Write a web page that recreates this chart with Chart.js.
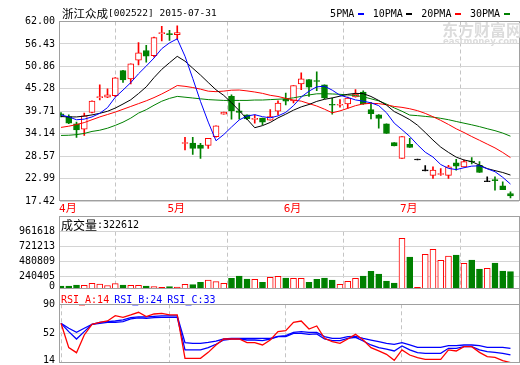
<!DOCTYPE html>
<html lang="zh-CN">
<head>
<meta charset="UTF-8">
<title>浙江众成[002522]</title>
<script src="https://cdn.jsdelivr.net/npm/chart.js"></script>
<style>
    body { margin: 0; background: #fff; }
    #wrap { position: relative; width: 520px; height: 365px; overflow: hidden; }
    #wrap canvas { position: absolute; left: 0; }
</style>
</head>
<body>
<div id="wrap">
    <canvas id="priceChart" width="520" height="216" style="top:0"></canvas>
    <canvas id="volChart" width="520" height="80" style="top:216px"></canvas>
    <canvas id="rsiChart" width="520" height="82" style="top:289px"></canvas>
</div>
<script>
// ---- data ----
const title = '浙江众成[002522] 2015-07-31';
const months = ['4月', '5月', '6月', '7月'];
const monthStart = [0, 14, 29, 44];
const priceTicks = [62.00, 56.43, 50.86, 45.28, 39.71, 34.14, 28.57, 22.99, 17.42];
const volTicks = [0, 240405, 480809, 721213, 961618];
const rsiTicks = [14, 52, 90];
const maNames = ['5PMA', '10PMA', '20PMA', '30PMA'];
const rsiNames = ['RSI_A', 'RSI_B', 'RSI_C'];

const open = [39.0, 38.4, 36.6, 35.25, 39.4, 43.1, 43.2, 43.6, 49.8, 47.75,
    52.4, 54.8, 53.5, 59.0, 59.0, 58.7, 31.7, 31.8, 31.3, 31.2,
    33.4, 39.0, 43.4, 39.8, 38.8, 37.7, 38.0, 37.5, 39.7, 42.8,
    42.3, 46.5, 47.6, 47.3, 46.25, 41.3, 41.2, 41.5, 43.25, 44.5,
    40.1, 38.8, 36.6, 31.9, 28.0, 31.5, 27.6, 24.9, 23.8, 24.0,
    23.8, 26.9, 25.9, 27.25, 26.3, 22.2, 22.75, 21.2, 19.25];
const high = [39.4, 38.8, 37.0, 39.25, 42.3, 46.3, 45.3, 48.1, 49.9, 51.5,
    56.75, 56.1, 58.1, 60.8, 59.8, 60.9, 33.25, 33.25, 31.75, 33.0,
    36.1, 39.5, 43.8, 41.75, 38.8, 38.8, 38.0, 40.1, 42.3, 44.25,
    46.1, 49.25, 47.6, 49.5, 46.3, 43.0, 42.6, 43.25, 45.1, 44.8,
    41.9, 38.9, 36.6, 31.9, 33.4, 33.0, 27.6, 26.2, 25.9, 25.5,
    26.3, 27.8, 27.6, 28.2, 27.2, 23.4, 23.4, 22.2, 19.7];
const low = [38.3, 36.6, 33.2, 33.7, 39.3, 42.5, 43.1, 43.3, 46.9, 46.5,
    51.2, 51.9, 53.2, 57.2, 57.3, 57.6, 30.1, 29.0, 28.0, 30.5,
    33.3, 39.0, 37.75, 37.75, 37.6, 36.75, 36.3, 37.5, 38.8, 41.3,
    41.75, 45.1, 43.4, 44.8, 42.8, 39.0, 40.75, 40.5, 43.2, 41.4,
    37.8, 35.5, 34.2, 31.1, 28.0, 30.7, 27.6, 24.9, 23.0, 23.8,
    23.0, 25.1, 25.9, 26.6, 24.5, 22.2, 20.1, 20.25, 18.2];
const close = [38.8, 36.75, 35.1, 38.6, 42.25, 43.3, 43.8, 48.0, 47.5, 51.5,
    54.25, 53.4, 58.0, 59.1, 58.7, 59.25, 31.8, 30.5, 30.5, 33.0,
    36.1, 39.5, 39.8, 39.4, 37.8, 37.8, 37.0, 38.4, 41.75, 42.2,
    46.1, 47.75, 45.7, 47.1, 43.0, 41.2, 41.4, 43.0, 44.0, 41.5,
    39.1, 37.9, 34.2, 31.1, 33.4, 30.7, 27.6, 24.9, 25.1, 24.1,
    25.9, 26.1, 27.2, 27.1, 24.5, 22.2, 22.5, 20.25, 18.7];
const volume = [91000, 91000, 107000, 103000, 135000, 123000, 99000, 128000, 107000, 103000,
    103000, 91000, 80000, 70000, 80000, 75000, 119000, 112000, 151000, 188000,
    160000, 135000, 215000, 252000, 204000, 199000, 151000, 231000, 247000, 220000,
    215000, 215000, 151000, 199000, 220000, 188000, 119000, 167000, 215000, 252000,
    327000, 284000, 171000, 139000, 856000, 556000, 70000, 599000, 680000, 503000,
    572000, 588000, 455000, 508000, 364000, 375000, 460000, 332000, 322612];

const ma5 = [38.8, 38.3, 37.6, 37.75, 38.3, 39.2, 40.61, 43.19, 44.97, 46.82,
    49.01, 50.93, 52.93, 55.25, 56.69, 57.69, 53.37, 47.87, 42.15, 37.01,
    32.38, 33.92, 35.78, 37.56, 38.52, 38.86, 38.36, 38.08, 38.55, 39.43,
    41.09, 43.24, 44.7, 45.77, 45.93, 44.95, 43.68, 43.14, 42.52, 42.22,
    41.8, 41.1, 39.34, 36.76, 35.14, 33.46, 31.4, 29.54, 28.34, 26.48,
    25.52, 25.22, 25.68, 26.08, 26.16, 25.42, 24.7, 23.31, 21.63];
const ma10 = [38.4, 38.3, 38.3, 38.5, 38.8, 39.2, 39.7, 40.5, 41.5, 42.56,
    44.1, 45.77, 48.06, 50.11, 51.76, 53.35, 52.15, 50.4, 48.7, 46.85,
    45.04, 43.65, 41.83, 39.86, 37.77, 35.62, 36.14, 36.93, 38.06, 38.98,
    39.98, 40.8, 41.39, 42.16, 42.68, 43.02, 43.46, 43.92, 44.15, 44.08,
    43.38, 42.39, 41.24, 39.64, 38.68, 37.63, 36.25, 34.44, 32.55, 30.81,
    29.49, 28.31, 27.61, 27.21, 26.32, 25.47, 24.96, 24.5, 23.86];
const ma20 = [35.7, 36.0, 36.4, 36.9, 37.6, 38.3, 38.9, 39.5, 40.2, 40.9,
    41.6, 42.3, 43.1, 44.0, 45.0, 46.1, 45.9, 45.6, 45.2, 44.7,
    44.57, 44.71, 44.94, 44.98, 44.76, 44.49, 44.15, 43.67, 43.38, 42.91,
    42.5, 42.22, 41.61, 41.01, 40.22, 39.32, 39.8, 40.43, 41.1, 41.53,
    41.68, 41.6, 41.32, 40.9, 40.68, 40.33, 39.86, 39.18, 38.35, 37.44,
    36.43, 35.35, 34.43, 33.43, 32.5, 31.55, 30.61, 29.47, 28.2];
const ma30 = [33.7, 33.75, 33.9, 34.2, 34.7, 35.0, 35.5, 36.2, 37.0, 38.0,
    39.25, 40.1, 41.2, 42.2, 42.9, 43.4, 43.2, 43.0, 42.8, 42.6,
    42.5, 42.4, 42.4, 42.4, 42.4, 42.5, 42.5, 42.6, 42.7, 42.8,
    43.04, 43.4, 43.76, 44.04, 44.07, 44.0, 43.92, 43.75, 43.63, 43.3,
    42.8, 42.28, 41.49, 40.55, 39.71, 38.76, 38.62, 38.43, 38.25, 37.95,
    37.61, 37.17, 36.75, 36.34, 35.89, 35.37, 34.89, 34.29, 33.52];

const rsiA = [65.5, 34.2, 27.7, 50.5, 64.2, 66.8, 68.5, 75.4, 73.2, 76.3,
    79.7, 74.1, 77.5, 78.4, 76.3, 76.3, 20.4, 20.4, 20.4, 28.1,
    37.6, 45.3, 45.3, 45.3, 40.6, 40.6, 37.6, 44.0, 54.8, 56.1,
    66.8, 68.5, 58.2, 62.1, 46.2, 41.9, 39.7, 45.3, 51.3, 44.0,
    34.2, 29.9, 25.6, 17.8, 31.2, 24.7, 21.3, 19.1, 19.1, 19.1,
    31.2, 29.9, 35.4, 35.4, 28.1, 22.6, 21.7, 17.4, 14.8];
const rsiB = [65.5, 54.8, 45.3, 54.8, 64.2, 65.5, 66.8, 66.8, 67.7, 71.1,
    72.4, 72.0, 72.8, 73.2, 73.2, 73.2, 31.2, 31.2, 31.2, 34.2,
    38.5, 44.0, 45.3, 45.3, 44.0, 44.0, 43.2, 45.3, 48.3, 48.3,
    52.6, 52.6, 51.3, 51.8, 45.3, 43.2, 43.2, 46.2, 47.5, 42.7,
    37.6, 34.2, 32.4, 29.9, 36.3, 31.2, 27.7, 26.9, 26.9, 26.9,
    33.3, 33.3, 35.4, 35.4, 31.2, 29.0, 28.1, 26.9, 24.8];
const rsiC = [65.5, 59.1, 53.9, 59.1, 64.2, 66.8, 67.7, 68.5, 69.8, 72.8,
    73.7, 73.7, 74.5, 75.0, 75.0, 75.0, 40.6, 39.7, 39.7, 41.0,
    42.7, 45.3, 46.2, 46.2, 46.2, 46.2, 46.2, 46.2, 48.8, 49.6,
    53.9, 54.8, 53.9, 53.9, 48.3, 46.2, 46.2, 48.3, 48.8, 46.2,
    44.0, 41.9, 39.7, 38.5, 40.6, 37.6, 34.6, 34.6, 34.6, 34.6,
    36.7, 36.7, 37.6, 37.6, 36.7, 34.6, 34.6, 34.6, 33.2];

// ---- styles ----
const RED = '#ff0000', GREEN = '#008000', BLUE = '#0000ff', BLACK = '#000000';
const GRID = '#d4d4d4', FRAME = '#a0a0a0', DASH = '#c4c4c4';
const MONO = '"DejaVu Sans Mono", "Noto Sans CJK SC", monospace';
const CJK = '"Noto Sans CJK SC", sans-serif';
const maColors = [BLUE, BLACK, RED, GREEN];
const rsiColors = [RED, BLUE, BLUE];

Chart.defaults.font.family = MONO;
Chart.defaults.font.size = 10;
Chart.defaults.color = '#000';

const candleColor = close.map((c, i) => c > open[i] ? RED : (c < open[i] ? GREEN : BLACK));
const bodyFill = close.map((c, i) => c > open[i] ? '#ffffff' : candleColor[i]);
const volColor = close.map((c, i) => c >= open[i] ? RED : GREEN);
const volFill = close.map((c, i) => c >= open[i] ? '#ffffff' : GREEN);

const pts = arr => arr.map((v, i) => ({ x: i, y: v }));

// shared time axis (one slot per trading day)
function timeAxis(showLabels, height) {
    return {
        type: 'linear', min: -0.13, max: 59.1, offset: false,
        afterBuildTicks: s => { s.ticks = monthStart.map(v => ({ value: v })); },
        afterFit: s => { s.height = height; },
        ticks: {
            display: showLabels, autoSkip: false, maxRotation: 0, align: 'start',
            padding: 2, labelOffset: -2, color: RED, font: { size: 11 },
            callback: (v, i) => months[i]
        },
        grid: { color: DASH, drawTicks: false },
        border: { display: false, dash: [4, 3] }
    };
}

// small lineHeight keeps the tick labels from pushing the plot area in
function valueAxis(min, max, tickValues, fmt, gridColor) {
    return {
        min: min, max: max,
        afterBuildTicks: s => { s.ticks = tickValues.map(v => ({ value: v })); },
        afterFit: s => { s.width = 60; },
        ticks: { padding: 5, autoSkip: false, callback: fmt, font: { size: 10, lineHeight: 0.3 } },
        grid: { color: gridColor || GRID, drawTicks: false },
        border: { display: false }
    };
}

// panel frame, topExtra = label strip above the plot area
const framePlugin = topExtra => ({
    id: 'frame',
    afterDraw(chart) {
        const { ctx, chartArea: a } = chart;
        ctx.save();
        ctx.strokeStyle = FRAME;
        ctx.lineWidth = 1;
        const l = Math.round(a.left) - 0.5, r = Math.round(a.right) + 0.5;
        const t = Math.round(a.top - topExtra) - 0.5, b = Math.round(a.bottom) - 0.5;
        ctx.strokeRect(l, t, r - l, b - t);
        ctx.restore();
    }
});

function drawMixed(ctx, text, x, y, asciiFont, cjkFont, color) {
    const runs = text.match(/[\u3000-\u9fff]+|[^\u3000-\u9fff]+/g);
    ctx.fillStyle = color;
    ctx.textBaseline = 'middle';
    ctx.textAlign = 'left';
    runs.forEach(r => {
        ctx.font = /[\u3000-\u9fff]/.test(r) ? cjkFont : asciiFont;
        ctx.fillText(r, x, y);
        x += ctx.measureText(r).width;
    });
    return x;
}

const headerPlugin = {
    id: 'header',
    afterDraw(chart) {
        const ctx = chart.ctx;
        ctx.save();
        // watermark
        ctx.fillStyle = '#dcdcdc';
        ctx.textBaseline = 'middle';
        ctx.font = 'bold 16px ' + CJK;
        ctx.fillText('东方财富网', 442, 30);
        ctx.font = 'bold 8.5px "DejaVu Sans", sans-serif';
        ctx.fillText('eastmoney.com', 443, 42);
        // title
        drawMixed(ctx, title, 62, 14, '9.5px ' + MONO, '11.5px ' + CJK, '#000');
        // legend: name then colour mark
        ctx.font = '10px ' + MONO;
        const widths = maNames.map(n => ctx.measureText(n).width);
        const total = widths.reduce((s, w) => s + w + 9.5, 0) + 9 * (maNames.length - 1);
        let x = 509.5 - total;
        maNames.forEach((n, i) => {
            ctx.fillStyle = '#000';
            ctx.fillText(n, x, 14);
            x += widths[i] + 3.5;
            ctx.fillStyle = maColors[i];
            ctx.fillRect(Math.round(x), 13, 6, 2);
            x += 6 + 9;
        });
        ctx.restore();
    }
};

const baseOptions = pad => ({
    responsive: false, animation: false, events: [],
    layout: { autoPadding: false, padding: pad },
    plugins: { legend: { display: false }, tooltip: { enabled: false } }
});

new Chart(document.getElementById('priceChart'), {
    type: 'bar',
    data: {
        datasets: [
            ...[ma5, ma10, ma20, ma30].map((d, i) => ({
                type: 'line', label: maNames[i], data: pts(d),
                borderColor: maColors[i], borderWidth: 1, pointRadius: 0, tension: 0, order: 0
            })),
            {
                label: 'body', data: open.map((o, i) => ({ x: i, y: [o, close[i]] })),
                backgroundColor: bodyFill, borderColor: candleColor, borderWidth: 1,
                borderSkipped: false, barThickness: 6, minBarLength: 1, grouped: false, clip: 0, order: 1
            },
            {
                label: 'wick', data: low.map((l, i) => ({ x: i, y: [l, high[i]] })),
                backgroundColor: candleColor, borderWidth: 0,
                barThickness: 1, minBarLength: 1, grouped: false, clip: 0, order: 2
            }
        ]
    },
    options: Object.assign(baseOptions({ top: 21.5, right: 1, left: 0, bottom: 0 }), {
        scales: {
            x: timeAxis(true, 15),
            y: valueAxis(priceTicks[priceTicks.length - 1], priceTicks[0], priceTicks, v => v.toFixed(2))
        }
    }),
    plugins: [framePlugin(0), headerPlugin]
});

// volume panel: label strip above the plot, lowest tick label lifted a little
const volLabelPlugin = {
    id: 'volLabel',
    afterDraw(chart) {
        const ctx = chart.ctx;
        ctx.save();
        drawMixed(ctx, '成交量:' + volume[volume.length - 1], 61, 9.5, '10px ' + MONO, '12px ' + CJK, '#000');
        ctx.restore();
    }
};

new Chart(document.getElementById('volChart'), {
    type: 'bar',
    data: {
        datasets: [{
            label: '成交量', data: pts(volume),
            backgroundColor: volFill, borderColor: volColor, borderWidth: 1,
            borderSkipped: false, barThickness: 6, grouped: false, clip: 0
        }]
    },
    options: Object.assign(baseOptions({ top: 15.7, right: 1, left: 0, bottom: 7 }), {
        scales: {
            x: timeAxis(false, 0),
            y: valueAxis(43000, volTicks[volTicks.length - 1], volTicks.map(v => Math.max(v, 91000)),
                (v, i) => String(volTicks[i]),
                c => c.index === 0 ? 'rgba(0,0,0,0)' : GRID)
        }
    }),
    plugins: [framePlugin(15), volLabelPlugin]
});

const rsiLabelPlugin = {
    id: 'rsiLabel',
    afterDraw(chart) {
        const ctx = chart.ctx;
        ctx.save();
        ctx.font = '10px ' + MONO;
        ctx.textBaseline = 'middle';
        let x = 61;
        [rsiA, rsiB, rsiC].forEach((d, i) => {
            const t = rsiNames[i] + ':' + Math.floor(d[d.length - 1]);
            ctx.fillStyle = rsiColors[i];
            ctx.fillText(t, x, 11);
            x += ctx.measureText(t).width + 5;
        });
        ctx.restore();
    }
};

new Chart(document.getElementById('rsiChart'), {
    type: 'line',
    data: {
        datasets: [rsiA, rsiB, rsiC].map((d, i) => ({
            label: rsiNames[i], data: pts(d),
            borderColor: rsiColors[i], borderWidth: 1.3, pointRadius: 0, tension: 0
        }))
    },
    options: Object.assign(baseOptions({ top: 15.3, right: 1, left: 0, bottom: 7.7 }), {
        scales: {
            x: timeAxis(false, 0),
            y: valueAxis(rsiTicks[0], rsiTicks[rsiTicks.length - 1], rsiTicks.map(v => Math.max(v, 18.2)),
                (v, i) => String(rsiTicks[i]),
                c => c.index === 0 ? 'rgba(0,0,0,0)' : (c.index === rsiTicks.length - 1 ? FRAME : GRID))
        }
    }),
    plugins: [framePlugin(15), rsiLabelPlugin]
});
</script>
</body>
</html>
